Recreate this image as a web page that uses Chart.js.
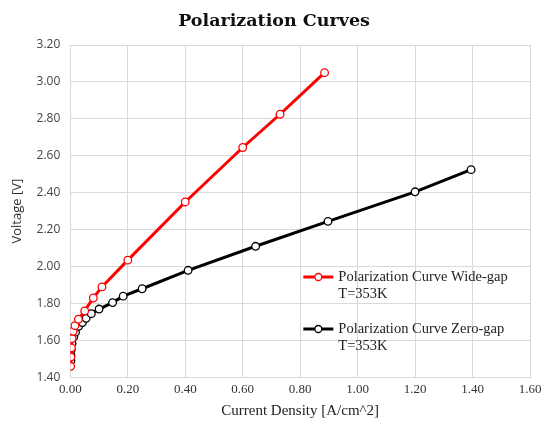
<!DOCTYPE html>
<html>
<head>
<meta charset="utf-8">
<script src="https://cdn.jsdelivr.net/npm/chart.js@4"></script>
<style>
  html, body { margin: 0; padding: 0; background: #fff; }
  #wrap { width: 543px; height: 428px; }
</style>
</head>
<body>
<div id="wrap"><canvas id="polarization"></canvas></div>
<script>
// current density [A/cm^2] and voltage [V]
const wideGapJ = [0.001, 0.002, 0.004, 0.006, 0.010, 0.016, 0.028, 0.050, 0.080, 0.110, 0.200, 0.400, 0.600, 0.730, 0.885];
const wideGapV = [1.46, 1.51, 1.56, 1.61, 1.65, 1.68, 1.715, 1.76, 1.83, 1.89, 2.035, 2.35, 2.645, 2.825, 3.05];

const zeroGapJ = [0.002, 0.002, 0.003, 0.006, 0.012, 0.018, 0.029, 0.042, 0.055, 0.073, 0.100, 0.147, 0.184, 0.250, 0.410, 0.645, 0.897, 1.200, 1.395];
const zeroGapV = [1.49, 1.52, 1.55, 1.585, 1.62, 1.645, 1.677, 1.697, 1.72, 1.745, 1.77, 1.805, 1.84, 1.88, 1.98, 2.11, 2.245, 2.405, 2.525];

const seriesNames = [
    ["Polarization Curve Wide-gap", "T=353K"],
    ["Polarization Curve Zero-gap", "T=353K"]
];
const seriesColors = ["#ff0000", "#000000"];

const toPoints = (xs, ys) => xs.map((x, i) => ({x: x, y: ys[i]}));

// legend drawn inside the plot area, like the original
const innerLegend = {
    id: "innerLegend",
    afterDraw(chart) {
        const ctx = chart.ctx;
        const area = chart.chartArea;
        const x0 = area.left + 233;
        const rows = [area.top + 232, area.top + 284];
        ctx.save();
        chart.data.datasets.forEach((ds, i) => {
            const y = rows[i];
            ctx.strokeStyle = ds.borderColor;
            ctx.lineWidth = 3;
            ctx.beginPath();
            ctx.moveTo(x0, y);
            ctx.lineTo(x0 + 30, y);
            ctx.stroke();
            ctx.beginPath();
            ctx.arc(x0 + 15, y, 3.5, 0, Math.PI * 2);
            ctx.fillStyle = "#fff";
            ctx.fill();
            ctx.lineWidth = 1.3;
            ctx.stroke();
            ctx.fillStyle = "#222";
            ctx.font = "14.5px 'Liberation Serif'";
            ctx.textBaseline = "middle";
            ds.label.forEach((line, k) => {
                ctx.fillText(line, x0 + 35, y + k * 17);
            });
        });
        ctx.restore();
    }
};

new Chart("polarization", {
    type: "scatter",
    data: {
        datasets: [
            {
                label: seriesNames[0],
                data: toPoints(wideGapJ, wideGapV),
                showLine: true,
                borderColor: seriesColors[0],
                backgroundColor: "#fff",
                borderWidth: 3,
                pointRadius: 3.8,
                pointBorderWidth: 1.3,
                pointBackgroundColor: "#fff",
                pointBorderColor: seriesColors[0],
            },
            {
                label: seriesNames[1],
                data: toPoints(zeroGapJ, zeroGapV),
                showLine: true,
                borderColor: seriesColors[1],
                backgroundColor: "#fff",
                borderWidth: 3,
                pointRadius: 3.8,
                pointBorderWidth: 1.3,
                pointBackgroundColor: "#fff",
                pointBorderColor: seriesColors[1],
            },
        ],
    },
    options: {
        responsive: true,
        maintainAspectRatio: false,
        animation: false,
        layout: { padding: { top: 4, right: 0, left: 5, bottom: 4 } },
        plugins: {
            legend: { display: false },
            tooltip: { enabled: false },
            title: {
                display: true,
                text: "Polarization Curves",
                color: "#111",
                font: { family: "'DejaVu Serif'", size: 17.5, weight: "bold" },
                padding: { top: 7, bottom: 13 },
            },
        },
        scales: {
            x: {
                type: "linear",
                min: 0,
                max: 1.6,
                afterFit: s => { s.paddingRight = 13; },
                ticks: {
                    stepSize: 0.2,
                    color: "#333",
                    font: { family: "'Liberation Serif'", size: 13 },
                    callback: v => v.toFixed(2),
                    padding: 4,
                },
                grid: { color: "#d9d9d9", drawTicks: false },
                border: { color: "#d9d9d9" },
                title: {
                    display: true,
                    text: "Current Density [A/cm^2]",
                    color: "#222",
                    font: { family: "'Liberation Serif'", size: 15 },
                    padding: { top: 1 },
                },
            },
            y: {
                min: 1.4,
                max: 3.2,
                ticks: {
                    stepSize: 0.2,
                    color: "#444",
                    font: { family: "'Open Sans'", size: 12 },
                    callback: v => v.toFixed(2),
                    padding: 10,
                },
                grid: { color: "#d9d9d9", drawTicks: false },
                border: { color: "#d9d9d9" },
                title: {
                    display: true,
                    text: "Voltage [V]",
                    color: "#333",
                    font: { family: "'Open Sans'", size: 13 },
                    padding: { bottom: 2 },
                },
            },
        },
    },
    plugins: [innerLegend],
});
</script>
</body>
</html>
